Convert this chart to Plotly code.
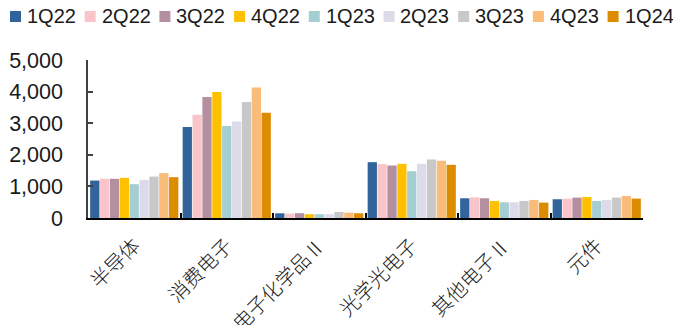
import plotly.graph_objects as go

categories = ["半导体", "消费电子", "电子化学品Ⅱ", "光学光电子", "其他电子Ⅱ", "元件"]
series_names = ["1Q22", "2Q22", "3Q22", "4Q22", "1Q23", "2Q23", "3Q23", "4Q23", "1Q24"]
colors = ["#31649A", "#F9C4CA", "#B48FA0", "#FFC000", "#A5CED3", "#DDDBEA", "#C8C8C8", "#F9BC79", "#DB8C00"]

v_1Q22 = [1185, 2879, 149, 1767, 624, 593]
v_2Q22 = [1240, 3270, 140, 1704, 656, 614]
v_3Q22 = [1240, 3832, 152, 1661, 624, 645]
v_4Q22 = [1270, 3990, 120, 1714, 540, 667]
v_1Q23 = [1070, 2910, 120, 1481, 497, 540]
v_2Q23 = [1206, 3057, 120, 1714, 497, 571]
v_3Q23 = [1311, 3673, 190, 1852, 540, 645]
v_4Q23 = [1419, 4127, 170, 1810, 571, 698]
v_1Q24 = [1292, 3333, 150, 1683, 487, 614]
values = [v_1Q22, v_2Q22, v_3Q22, v_4Q22, v_1Q23, v_2Q23, v_3Q23, v_4Q23, v_1Q24]

W, H = 673, 325
ml, mr, mt, mb = 88, 30, 60, 107
pw, ph = W - ml - mr, H - mt - mb

fig = go.Figure()
for name, col, vals in zip(series_names, colors, values):
    fig.add_trace(go.Bar(x=categories, y=vals, name=name, marker=dict(color=col, line=dict(width=0)),
                         showlegend=False))

# manual legend
def px2x(px):
    return (px - ml) / pw
def py2y(py):
    return (H - mb - py) / ph

shapes = []
annotations = []
for i, (name, col) in enumerate(zip(series_names, colors)):
    x0 = 10 + i * 74.7
    shapes.append(dict(type="rect", xref="paper", yref="paper",
                       x0=px2x(x0), x1=px2x(x0 + 11), y0=py2y(22), y1=py2y(11),
                       fillcolor=col, line=dict(width=0)))
    annotations.append(dict(text=name, xref="paper", yref="paper", x=px2x(x0 + 15), y=py2y(16),
                            xanchor="left", yanchor="middle", showarrow=False,
                            font=dict(family="Liberation Sans", size=20, color="#1a1a1a")))

fig.update_layout(
    width=W, height=H,
    margin=dict(l=ml, r=mr, t=mt, b=mb, autoexpand=False),
    paper_bgcolor="white", plot_bgcolor="white",
    barmode="group", bargap=0.04, bargroupgap=0.06,
    shapes=shapes, annotations=annotations,
    showlegend=False,
    font=dict(family="Liberation Sans", color="#1a1a1a"),
)
fig.update_yaxes(range=[0, 5000], tickvals=[0, 1000, 2000, 3000, 4000, 5000],
                 ticktext=["0", "1,000", "2,000", "3,000", "4,000", "5,000"],
                 showgrid=False, zeroline=False, showline=True, linecolor="#404040", linewidth=1.5,
                 ticks="inside", ticklen=5, tickcolor="#404040", tickwidth=1.5,
                 ticklabelstandoff=19, automargin=False,
                 tickfont=dict(family="Liberation Sans", size=21.5, color="#1a1a1a"))
fig.update_xaxes(showgrid=False, showline=True, linecolor="black", linewidth=2,
                 ticks="inside", ticklen=5, tickcolor="black", tickwidth=2, tickson="boundaries",
                 tickangle=-45, ticklabelstandoff=6, automargin=False,
                 tickfont=dict(family="Noto Sans CJK SC", size=20, color="#1a1a1a", weight=300))

fig.write_html("out.html")
